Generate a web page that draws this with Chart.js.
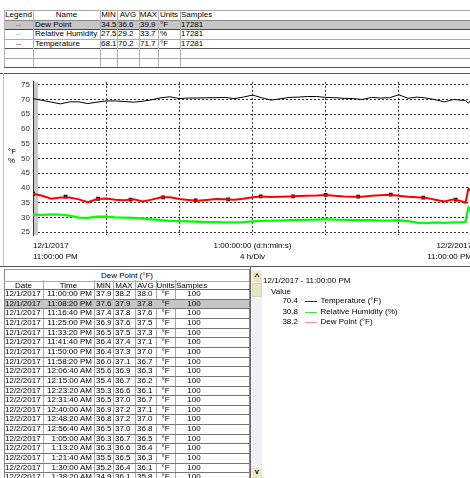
<!DOCTYPE html>
<html><head><meta charset="utf-8">
<script src="https://cdn.jsdelivr.net/npm/chart.js@4"></script>
<style>
html,body{margin:0;padding:0;background:#fff;width:470px;height:478px;overflow:hidden;}
#root{position:relative;width:470px;height:478px;overflow:hidden;font-family:"Liberation Sans",Arial,sans-serif;font-size:8px;color:#000;}
.t{position:absolute;white-space:nowrap;line-height:10px;height:10px;color:#000;}
.r{position:absolute;}
</style></head><body><div id="root"><canvas id="c" width="480" height="188" style="position:absolute;left:0;top:74px;"></canvas></div>
<script>
// ---------- data ----------
const hours = [0,0.5,1,1.5,2,2.5,3,3.5,4,4.5,5,5.5,6,6.5,7,7.5,8,8.5,9,9.5,10,10.5,11,11.5,12,12.5,13,13.5,14,14.5,15,15.5,16,16.5,17,17.5,18,18.5,19,19.5,20,20.5,21,21.5,22,22.5,23,23.5,23.65,23.8,24];
const temperature = [70.3,69.7,69.1,68.5,69.2,69.2,68.6,69.1,69.5,69.5,69.3,69.1,69.4,69.9,70.6,70.9,70.3,70.5,70.5,70.6,70.6,70.7,70.3,70.8,71.5,70.6,69.8,70.2,70.7,70.8,71.0,71.0,70.7,70.6,70.4,70.3,70.0,70.7,70.5,70.6,71.6,70.4,70.8,70.5,69.9,69.2,70.0,69.7,69.6,68.7,70.2];
const humidity = [30.9,30.8,31.0,30.9,30.6,29.9,29.8,30.2,30.2,30.0,29.9,29.8,29.6,29.3,29.0,28.8,28.7,28.6,28.5,28.4,28.4,28.3,28.3,28.4,28.6,28.8,28.9,28.9,29.0,29.1,29.1,29.2,29.4,29.2,29.1,29.0,29.0,29.0,28.9,28.9,29.0,28.7,28.2,28.0,28.3,28.1,28.3,28.4,28.6,33.3,32.0];
const dewPoint = [38.0,37.3,36.3,36.7,36.7,36.1,35.1,36.2,36.4,36.0,35.8,36.1,35.4,36.0,36.8,36.8,36.2,35.9,35.6,35.9,36.2,36.1,36.0,36.3,36.8,37.1,36.9,37.0,37.1,37.2,37.3,37.4,37.6,37.3,37.1,37.0,37.0,37.3,37.5,37.7,37.3,37.0,36.8,36.6,36.0,35.4,36.1,35.3,35.0,39.7,38.6];
const markerHours = [0,1.778,3.556,5.333,7.111,8.889,10.667,12.444,14.222,16,17.778,19.556,21.333,23.111];
const markerDew = [38.0,37.0,36.3,36.0,36.8,35.7,36.1,37.1,37.1,37.6,37.0,37.7,36.7,36.0];
const yTicks = [25,30,35,40,45,50,55,60,65,70,75];
const xGrid = [0,4,8,12,16,20,24];
const xLabels = {0:['12/1/2017','11:00:00 PM'],12:['1:00:00:00 (d:h:min:s)','4 h/Div'],24:['12/2/2017','11:00:00 PM']};

const legendNames = ['Dew Point','Relative Humidity','Temperature'];
const legendColors = ['#ff3030','#30e030','#333'];
const legendMin = ['34.5','27.5','68.1'];
const legendAvg = ['36.6','29.2','70.2'];
const legendMax = ['39.9','33.7','71.7'];
const legendUnits = ['°F','%','°F'];
const legendSamples = ['17281','17281','17281'];

const rowDates = ['12/1/2017','12/1/2017','12/1/2017','12/1/2017','12/1/2017','12/1/2017','12/1/2017','12/1/2017','12/2/2017','12/2/2017','12/2/2017','12/2/2017','12/2/2017','12/2/2017','12/2/2017','12/2/2017','12/2/2017','12/2/2017','12/2/2017','12/2/2017'];
const rowTimes = ['11:00:00 PM','11:08:20 PM','11:16:40 PM','11:25:00 PM','11:33:20 PM','11:41:40 PM','11:50:00 PM','11:58:20 PM','12:06:40 AM','12:15:00 AM','12:23:20 AM','12:31:40 AM','12:40:00 AM','12:48:20 AM','12:56:40 AM','1:05:00 AM','1:13:20 AM','1:21:40 AM','1:30:00 AM','1:38:20 AM'];
const rowMin = ['37.9','37.6','37.4','36.9','36.5','36.4','36.4','36.0','35.6','35.4','35.3','36.5','36.9','36.8','36.5','36.3','36.3','35.5','35.2','34.9'];
const rowMax = ['38.2','37.9','37.8','37.6','37.5','37.4','37.3','37.1','36.9','36.7','36.6','37.0','37.2','37.2','37.0','36.7','36.6','36.5','36.4','36.1'];
const rowAvg = ['38.0','37.8','37.6','37.5','37.3','37.1','37.0','36.7','36.3','36.2','36.1','36.7','37.1','37.0','36.8','36.5','36.4','36.3','36.1','35.8'];

const cursorValues = ['70.4','30.8','38.2'];
const cursorNames = ['Temperature (°F)','Relative Humidity (%)','Dew Point (°F)'];
const cursorColors = ['#333','#44dd44','#ff8c8c'];

// ---------- html helpers ----------
const root = document.getElementById('root');
function T(x, cy, s, align, color, extra){
  const d = document.createElement('div'); d.className='t'; d.textContent = s;
  d.style.top = (cy-5)+'px';
  if(align==='c'){d.style.left=(x-100)+'px'; d.style.width='200px'; d.style.textAlign='center';}
  else if(align==='r'){d.style.left=(x-200)+'px'; d.style.width='200px'; d.style.textAlign='right';}
  else d.style.left = x+'px';
  if(color) d.style.color=color;
  if(extra) Object.assign(d.style, extra);
  root.appendChild(d); return d;
}
function R(x,y,w,h,bg,extra){
  const d=document.createElement('div'); d.className='r';
  Object.assign(d.style,{left:x+'px',top:y+'px',width:w+'px',height:h+'px',background:bg});
  if(extra) Object.assign(d.style, extra);
  root.appendChild(d); return d;
}
function H(x1,x2,y,c){return R(x1,Math.round(y),x2-x1,1,c);}
function V(x,y1,y2,c){return R(Math.round(x),y1,1,y2-y1,c);}

// ---------- top legend table ----------
R(4,20,466,9,'#c6c6c6');
H(4,470,10,'#a8a8a8');
H(4,470,19.5,'#888');
H(4,470,29,'#444');
H(4,470,38.5,'#aaa');
H(4,470,48,'#555');
H(4,470,57.5,'#aaa');
H(4,470,67,'#555');
[4,33,100,117,139,158,180].forEach(x=>V(x,10,67,'#b0b0b0'));
T(18.5,15,'Legend','c'); T(66.5,15,'Name','c'); T(108.5,15,'MIN','c'); T(128,15,'AVG','c');
T(148.5,15,'MAX','c'); T(169,15,'Units','c'); T(181,15,'Samples');
legendNames.forEach((n,i)=>{
  const cy = 24.5 + i*9.5;
  T(18.5,cy,'--','c',legendColors[i]);
  T(35,cy,n); T(101,cy,legendMin[i]); T(118,cy,legendAvg[i]); T(140,cy,legendMax[i]);
  T(160,cy,legendUnits[i]); T(181,cy,legendSamples[i]);
});

// ---------- chart panel frame ----------
H(0,470,73,'#555');
V(3,73,266,'#c0c0c0');
T(8,152,'°F'); T(8,161,'%');

// ---------- bottom table ----------
H(0,470,266,'#555');
H(4,250,269,'#999');
V(4,269,478,'#888');
V(249,269,478,'#888');
T(127,276,'Dew Point (°F)','c','#000');
H(4,249,280.5,'#aaa');
const colX=[43,94,113,135,156,175];
colX.forEach(x=>V(x,280,478,'#aaa'));
T(23.5,285.5,'Date','c'); T(68.5,285.5,'Time','c'); T(103.5,285.5,'MIN','c'); T(124,285.5,'MAX','c');
T(145.5,285.5,'AVG','c'); T(165.5,285.5,'Units','c'); T(176,285.5,'Samples');
H(4,249,289,'#666');
rowDates.forEach((d,i)=>{
  const top = 289 + i*9.65;
  if(i===1) R(5,Math.round(top)+1,244,9,'#c6c6c6');
  H(4,249,top+9.65,'#777');
  const cy = top+5;
  T(5,cy,d); T(92,cy,rowTimes[i],'r'); T(96,cy,rowMin[i]); T(115,cy,rowMax[i]); T(137,cy,rowAvg[i]);
  T(165.5,cy,'°F','c'); T(194,cy,'100','c');
});

// ---------- right cursor panel ----------
V(250,266,478,'#666');
R(252,271,10,207,'#f1f1f6');
R(252,271,10,11,'#ebe7c2');
T(257,277,'^','c','#000',{fontWeight:'bold',fontSize:'8px'});
R(252,283,10,14,'#e9e5bf',{boxSizing:'border-box',border:'1px solid #dcd8ae'});
R(252,468,10,10,'#ebe7c2');
T(257,472,'v','c','#000',{fontWeight:'bold',fontSize:'7px'});
T(263,280.7,'12/1/2017 - 11:00:00 PM');
T(271,291.7,'Value');
cursorValues.forEach((v,i)=>{
  const cy = 301 + i*10.6;
  T(298,cy,v,'r');
  H(305,317,cy,cursorColors[i]);
  T(320.5,cy,cursorNames[i]);
});

// ---------- chart ----------
const cursorBand = {
  id:'cursorBand',
  beforeDatasetsDraw(chart){
    const {ctx, chartArea:a, scales:{x}} = chart;
    const px = x.getPixelForValue(0);
    ctx.save(); ctx.fillStyle='#c8c8c8';
    ctx.fillRect(px+1, a.top, 4, a.bottom-a.top);
    ctx.restore();
  }
};
const pts = arr => hours.map((h,i)=>({x:h,y:arr[i]}));
new Chart(document.getElementById('c'), {
  type:'line',
  data:{datasets:[
    {label:'Relative Humidity', data:pts(humidity), borderColor:'#00ff00', borderWidth:2.3, pointRadius:0, tension:0},
    {label:'Dew Point', data:pts(dewPoint), borderColor:'#ff0000', borderWidth:2, pointRadius:0, tension:0},
    {label:'Temperature', data:pts(temperature), borderColor:'#000', borderWidth:1, pointRadius:0, tension:0},
    {label:'markers', data:markerHours.map((h,i)=>({x:h,y:markerDew[i]})), showLine:false, pointStyle:'rect',
     pointRadius:2.7, pointBackgroundColor:'#111', pointBorderColor:'#111', pointBorderWidth:0}
  ]},
  options:{
    responsive:false, animation:false, devicePixelRatio:1,
    layout:{padding:{top:5,right:8,left:0,bottom:0}},
    plugins:{legend:{display:false}, tooltip:{enabled:false}},
    scales:{
      x:{type:'linear', min:0, max:24,
        afterBuildTicks:s=>{s.ticks = xGrid.map(v=>({value:v}));},
        afterFit:s=>{s.height=27;},
        grid:{color:c=>(c.tick && (c.tick.value===0||c.tick.value===24))?'rgba(0,0,0,0)':'#333', drawTicks:false, tickLength:0},
        border:{display:false, dash:[2,2]},
        ticks:{autoSkip:false, maxRotation:0, align:'inner', padding:6, color:'#000',
          font:{family:'"Liberation Sans", Arial, sans-serif', size:8, lineHeight:1.3},
          callback:v=>xLabels[v]||''}
      },
      y:{min:24, max:76,
        afterBuildTicks:s=>{s.ticks = yTicks.map(v=>({value:v}));},
        afterFit:s=>{s.width=33;},
        grid:{color:'#333', drawTicks:false, tickLength:0},
        border:{display:true, color:'#333', width:1, dash:[2,2]},
        ticks:{padding:3, color:'#333', font:{family:'"Liberation Sans", Arial, sans-serif', size:8}}
      }
    }
  },
  plugins:[cursorBand]
});
</script></body></html>
